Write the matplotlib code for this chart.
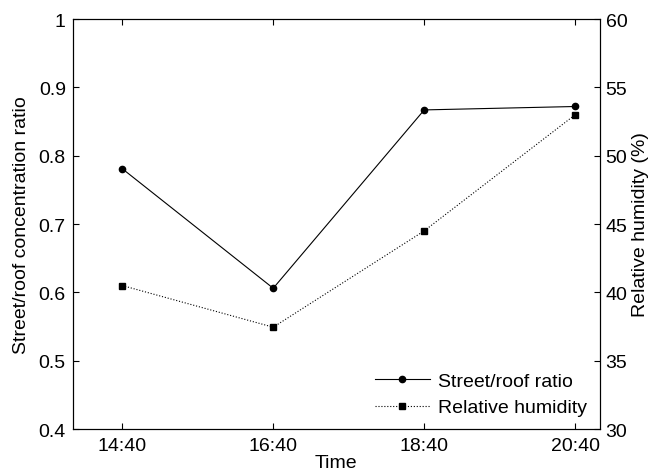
import matplotlib
matplotlib.use('Agg')
import matplotlib.pyplot as plt

plt.rcParams['font.family'] = ['Liberation Sans', 'DejaVu Sans']

times = ['14:40', '16:40', '18:40', '20:40']
ratio = [0.781, 0.606, 0.867, 0.872]
humidity = [40.5, 37.45, 44.5, 53.0]
xpos = [1, 2, 3, 4]

fig = plt.figure(figsize=(6.52, 4.77), dpi=100)
ax = fig.add_axes([0.1115, 0.0985, 0.8087, 0.8595])
ax2 = ax.twinx()

l1, = ax.plot(xpos, ratio, '-', color='black', lw=0.8, marker='o', ms=4.5,
              label='Street/roof ratio')
l2, = ax2.plot(xpos, humidity, ':', color='black', lw=0.8, marker='s', ms=4.5,
               label='Relative humidity')

ax.set_xlim(0.672, 4.164)
ax.set_ylim(0.4, 1.0)
ax.set_yticks([0.4, 0.5, 0.6, 0.7, 0.8, 0.9, 1.0])
ax.set_yticklabels(['0.4', '0.5', '0.6', '0.7', '0.8', '0.9', '1'])
ax.set_xticks(xpos)
ax.set_xticklabels(times)
ax2.set_ylim(30, 60)
ax2.set_yticks([30, 35, 40, 45, 50, 55, 60])

fs = 14
ax.tick_params(axis='x', direction='in', top=True, length=4, labelsize=fs, pad=6)
ax.tick_params(axis='y', direction='in', right=False, length=4, labelsize=fs, pad=5)
ax2.tick_params(axis='y', direction='in', length=4, labelsize=fs, pad=4)
ax2.tick_params(axis='x', top=False, bottom=False)

ax.set_xlabel('Time', fontsize=fs, labelpad=0)
ax.set_ylabel('Street/roof concentration ratio', fontsize=fs, labelpad=6)
ax2.set_ylabel('Relative humidity (%)', fontsize=fs, labelpad=3)

for a in (ax, ax2):
    for s in a.spines.values():
        s.set_linewidth(0.8)

ax.legend([l1, l2], ['Street/roof ratio', 'Relative humidity'], loc='lower right',
          frameon=False, fontsize=fs, handlelength=2.8, borderaxespad=0.25,
          labelspacing=0.45, handletextpad=0.45)

fig.savefig('out.png', dpi=100)
